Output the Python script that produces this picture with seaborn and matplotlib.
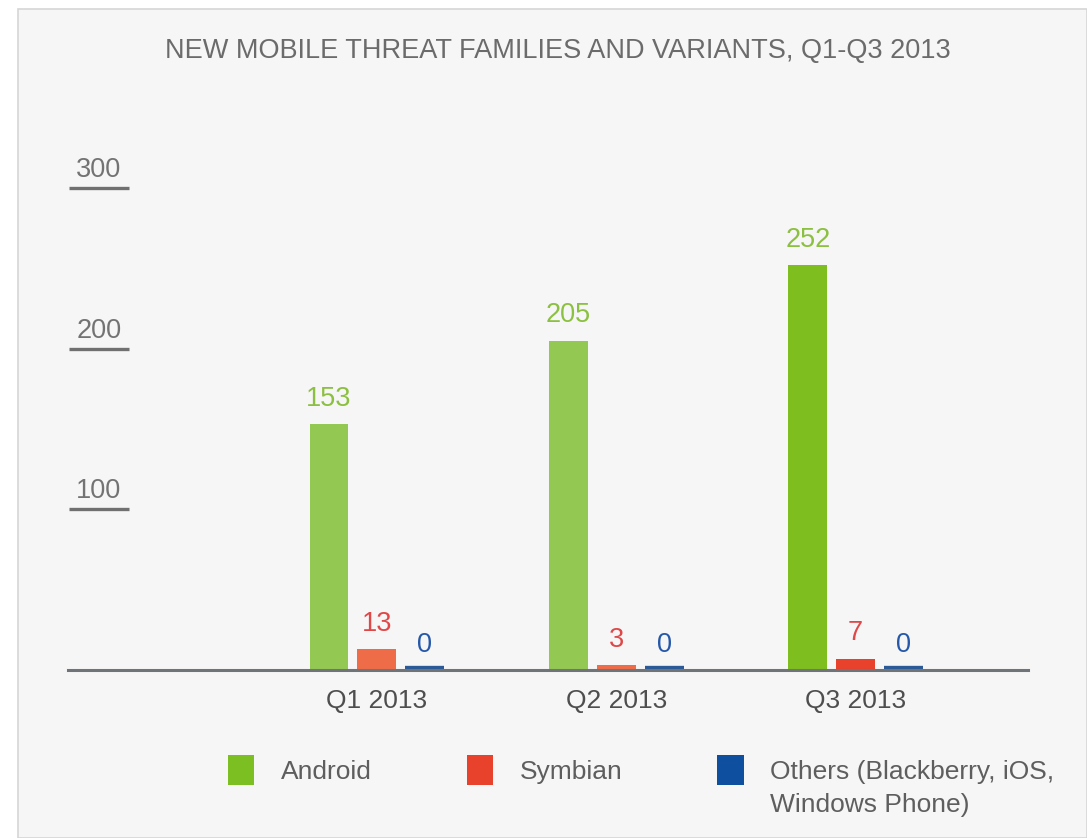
import matplotlib
matplotlib.use("Agg")
import matplotlib.pyplot as plt
from matplotlib.patches import Patch, Rectangle
import seaborn as sns
import pandas as pd

# ---- data ----
quarters = ["Q1 2013", "Q2 2013", "Q3 2013"]
series = ["Android", "Symbian", "Others (Blackberry, iOS, Windows Phone)"]
legend_lines = ["Android", "Symbian", "Others (Blackberry, iOS,"]
legend_extra = "Windows Phone)"
android = [153, 205, 252]
symbian = [13, 3, 7]
others = [0, 0, 0]
yticks = [100, 200, 300]
title = "NEW MOBILE THREAT FAMILIES AND VARIANTS, Q1-Q3 2013"

# ---- styling ----
bar_colors = {
    series[0]: ["#93c852", "#93c852", "#7fbe1f"],
    series[1]: ["#ef6c48", "#ef6c48", "#e8412c"],
    series[2]: ["#2b5a97", "#2b5a97", "#2b5a97"],
}
legend_colors = ["#7cbf22", "#e8412c", "#0f4fa0"]
label_colors = ["#8cc040", "#e04848", "#2558a8"]
BG = "#f6f6f6"
FONT = ["Liberation Sans", "DejaVu Sans"]

sns.set_theme(style="white")
plt.rcParams["font.family"] = FONT

df = pd.DataFrame({
    "quarter": quarters * 3,
    "series": [series[0]] * 3 + [series[1]] * 3 + [series[2]] * 3,
    "value": android + symbian + others,
})

W, H = 1087, 838
fig = plt.figure(figsize=(W / 100, H / 100), dpi=100, facecolor="white")
fig.patches.append(Rectangle((18 / W, 0), 1 - 18 / W, 1 - 9 / H, transform=fig.transFigure,
                             facecolor=BG, edgecolor="#d6d6d6", linewidth=1.2, zorder=-10))

ax = fig.add_axes([68 / W, 168 / H, 960 / W, 482 / H])
ax.set_facecolor("none")

sns.barplot(data=df, x="quarter", y="value", hue="series", order=quarters,
            hue_order=series, width=0.6, gap=0.19, ax=ax, legend=False,
            saturation=1)

zero_lw = 6.0  # points
for cont, s, lc in zip(ax.containers, series, label_colors):
    for p, c in zip(cont, bar_colors[s]):
        p.set_facecolor(c)
        if p.get_height() == 0:
            p.set_edgecolor(c)
            p.set_linewidth(zero_lw)
            p.set_capstyle("butt")
        else:
            p.set_linewidth(0)
    ax.bar_label(cont, padding=9, color=lc, fontsize=19.5)

ax.set_xlim(-1.29, 2.72)
ax.set_ylim(0, 300)
ax.set_xlabel("")
ax.set_ylabel("")
ax.set_yticks([])
for sp in ["left", "right", "top"]:
    ax.spines[sp].set_visible(False)
ax.spines["bottom"].set_color("#6f7478")
ax.spines["bottom"].set_linewidth(2.2)
ax.spines["bottom"].set_zorder(5)
ax.tick_params(axis="x", length=0, pad=14, labelsize=19, labelcolor="#4e4e4e")

# y tick labels with underline
trans = ax.get_yaxis_transform()
for t in yticks:
    ax.plot([0.001, 0.0635], [t, t], transform=trans, color="#707070", lw=2.4,
            clip_on=False, solid_capstyle="butt")
    ax.annotate(str(t), xy=(0.032, t), xycoords=trans, xytext=(0, 3.5),
                textcoords="offset points", ha="center", va="bottom",
                fontsize=19.5, color="#737373")

fig.text(0.513, 1 - 51 / H, title, ha="center", va="center", fontsize=19.5,
         color="#6b6b6b")

handles = [Patch(facecolor=c, edgecolor="none") for c in legend_colors]
leg = fig.legend(handles, legend_lines, loc="upper left",
                 bbox_to_anchor=(228 / W, 1 - 755 / H),
                 ncol=3, frameon=False, fontsize=19, labelcolor="#5e5e5e",
                 handlelength=1.0, handleheight=1.4, handletextpad=1.0,
                 columnspacing=3.6, borderpad=0, borderaxespad=0)

fig.canvas.draw()
tb = leg.get_texts()[2].get_window_extent()
fig.text(tb.x0 / W, (tb.y0 - 33) / H, legend_extra, ha="left", va="bottom",
         fontsize=19, color="#5e5e5e")

fig.savefig("out.png", dpi=100, facecolor=fig.get_facecolor())
